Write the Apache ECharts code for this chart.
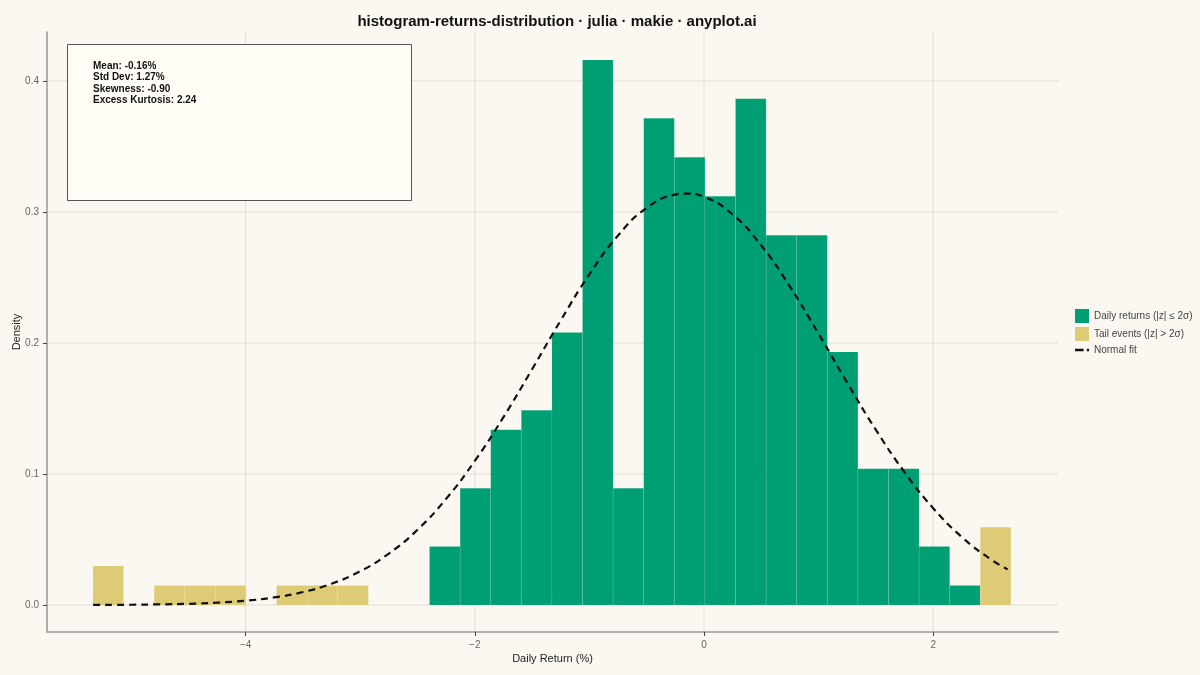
<!DOCTYPE html>
<html>
<head>
<meta charset="utf-8">
<script src="https://cdn.jsdelivr.net/npm/echarts@6/dist/echarts.min.js"></script>
<style>
html, body { margin: 0; padding: 0; background: #faf8f1; }
#chart { width: 1200px; height: 675px; }
</style>
</head>
<body>
<div id="chart"></div>
<script>
// bin edges (daily return, %)
const binEdges = [-5.332, -5.065, -4.798, -4.531, -4.264, -3.997, -3.730, -3.463, -3.196, -2.929,
    -2.662, -2.395, -2.128, -1.861, -1.594, -1.327, -1.060, -0.793, -0.526, -0.259,
    0.008, 0.275, 0.542, 0.809, 1.076, 1.343, 1.610, 1.877, 2.144, 2.411, 2.678];
// density of bins with |z| <= 2 sigma
const coreDensity = [0, 0, 0, 0, 0, 0, 0, 0, 0, 0,
    0, 0.0446, 0.0892, 0.1337, 0.1486, 0.2080, 0.4161, 0.0892, 0.3715, 0.3418,
    0.3121, 0.3864, 0.2823, 0.2823, 0.1932, 0.1040, 0.1040, 0.0446, 0.0149, 0];
// density of tail bins
const tailDensity = [0.0297, 0, 0.0149, 0.0149, 0.0149, 0, 0.0149, 0.0149, 0.0149, 0,
    0, 0, 0, 0, 0, 0, 0, 0, 0, 0,
    0, 0, 0, 0, 0, 0, 0, 0, 0, 0.0594];
// normal fit curve
const fitX = [-5.33, -5.0, -4.75, -4.5, -4.25, -4.0, -3.75, -3.5, -3.25, -3.0, -2.75, -2.5, -2.25,
    -2.0, -1.75, -1.5, -1.25, -1.0, -0.75, -0.5, -0.25, -0.16, 0, 0.25, 0.5, 0.75, 1.0,
    1.25, 1.5, 1.75, 2.0, 2.25, 2.5, 2.65];
const fitY = [0.0001, 0.0002, 0.0005, 0.0009, 0.0018, 0.0033, 0.0058, 0.0099, 0.0163, 0.0258, 0.0393, 0.0575, 0.0811,
    0.1100, 0.1434, 0.1800, 0.2173, 0.2524, 0.2820, 0.3031, 0.3133, 0.3141, 0.3116, 0.2981, 0.2744, 0.2430, 0.2070,
    0.1696, 0.1337, 0.1014, 0.0739, 0.0519, 0.0350, 0.0272];
const xTicks = [-4, -2, 0, 2];
const yTicks = [0, 0.1, 0.2, 0.3, 0.4];
const statsLines = ["Mean: -0.16%", "Std Dev: 1.27%", "Skewness: -0.90", "Excess Kurtosis: 2.24"];

const GREEN = "#009E73";
const SAND = "#DDCB76";
const FONT = "Liberation Sans, Arial, sans-serif";

function binData(dens) {
    return dens.map((d, i) => [binEdges[i], binEdges[i + 1], d]);
}

function histItem(color) {
    return function (params, api) {
        const h = api.value(2);
        if (!h) return null;
        const p0 = api.coord([api.value(0), h]);
        const p1 = api.coord([api.value(1), 0]);
        return {
            type: "rect",
            shape: { x: p0[0], y: p0[1], width: p1[0] - p0[0], height: p1[1] - p0[1] },
            style: { fill: color, stroke: "rgba(255,255,255,0.12)", lineWidth: 0.8 },
        };
    };
}

// light grid lines behind the bars
function gridItem(vertical) {
    return function (params, api) {
        const cs = params.coordSys;
        const p = api.coord([api.value(0), api.value(1)]);
        const shape = vertical
            ? { x1: p[0], y1: cs.y, x2: p[0], y2: cs.y + cs.height }
            : { x1: cs.x, y1: p[1], x2: cs.x + cs.width, y2: p[1] };
        return { type: "line", shape: shape, style: { stroke: "#e2dfd8", lineWidth: 1 } };
    };
}

const chart = echarts.init(document.getElementById("chart"));
const option = {
    backgroundColor: "#faf8f1",
    animation: false,
    textStyle: { fontFamily: FONT },
    title: {
        text: "histogram-returns-distribution · julia · makie · anyplot.ai",
        left: 552,
        top: 9,
        textAlign: "center",
        textStyle: { fontSize: 15, fontWeight: "bold", color: "#111", fontFamily: FONT },
    },
    grid: { left: 47, right: 142, top: 32, bottom: 43, containLabel: false, outerBoundsMode: "none" },
    legend: {
        orient: "vertical",
        left: 1075,
        top: 309,
        padding: 0,
        itemWidth: 14,
        itemHeight: 14,
        itemGap: 4,
        textStyle: { fontSize: 10, color: "#444", fontFamily: FONT },
        data: [
            { name: "Daily returns (|z| ≤ 2σ)", icon: "rect" },
            { name: "Tail events (|z| > 2σ)", icon: "rect" },
            { name: "Normal fit", icon: "path://M0,0 H8 V2.5 H0 Z M11,0 H13 V2.5 H11 Z" },
        ],
    },
    xAxis: {
        type: "value",
        min: -5.733,
        max: 3.089,
        name: "Daily Return (%)",
        nameLocation: "middle",
        nameGap: 21,
        nameMoveOverlap: false,
        nameTextStyle: { fontSize: 11, color: "#222" },
        axisLine: { onZero: false, lineStyle: { color: "#999", width: 1.5 } },
        axisTick: { customValues: xTicks, length: 4, lineStyle: { color: "#444" } },
        axisLabel: {
            customValues: xTicks,
            fontSize: 10,
            color: "#666",
            formatter: (v) => String(v).replace("-", "\u2212"),
        },
        splitLine: { show: false },
    },
    yAxis: {
        type: "value",
        min: -0.0206,
        max: 0.4374,
        name: "Density",
        nameLocation: "middle",
        nameGap: 25,
        nameMoveOverlap: false,
        nameTextStyle: { fontSize: 11, color: "#222" },
        axisLine: { show: true, onZero: false, lineStyle: { color: "#999", width: 1.5 } },
        axisTick: { show: true, customValues: yTicks, length: 4, lineStyle: { color: "#444" } },
        axisLabel: {
            customValues: yTicks,
            fontSize: 10,
            color: "#666",
            formatter: (v) => v.toFixed(1),
        },
        splitLine: { show: false },
    },
    series: [
        {
            name: "xgrid",
            type: "custom",
            z: 0,
            silent: true,
            renderItem: gridItem(true),
            data: xTicks.map((v) => [v, 0]),
        },
        {
            name: "ygrid",
            type: "custom",
            z: 0,
            silent: true,
            renderItem: gridItem(false),
            data: yTicks.map((v) => [0, v]),
        },
        {
            name: "Daily returns (|z| ≤ 2σ)",
            type: "custom",
            z: 2,
            itemStyle: { color: GREEN },
            renderItem: histItem(GREEN),
            data: binData(coreDensity),
        },
        {
            name: "Tail events (|z| > 2σ)",
            type: "custom",
            z: 2,
            itemStyle: { color: SAND },
            renderItem: histItem(SAND),
            data: binData(tailDensity),
        },
        {
            name: "Normal fit",
            type: "line",
            z: 3,
            smooth: true,
            symbol: "none",
            color: "#111",
            lineStyle: { color: "#111", width: 2.2, type: [7, 5] },
            data: fitX.map((x, i) => [x, fitY[i]]),
        },
    ],
    graphic: [
        {
            type: "rect",
            left: 67,
            top: 44,
            z: 10,
            shape: { width: 344, height: 156 },
            style: { fill: "#fffdf6", stroke: "#555", lineWidth: 1 },
        },
        {
            type: "text",
            left: 93,
            top: 60,
            z: 11,
            style: {
                text: statsLines.join("\n"),
                font: "bold 10px " + FONT,
                lineHeight: 11.5,
                fill: "#111",
            },
        },
    ],
};
chart.setOption(option);
</script>
</body>
</html>
